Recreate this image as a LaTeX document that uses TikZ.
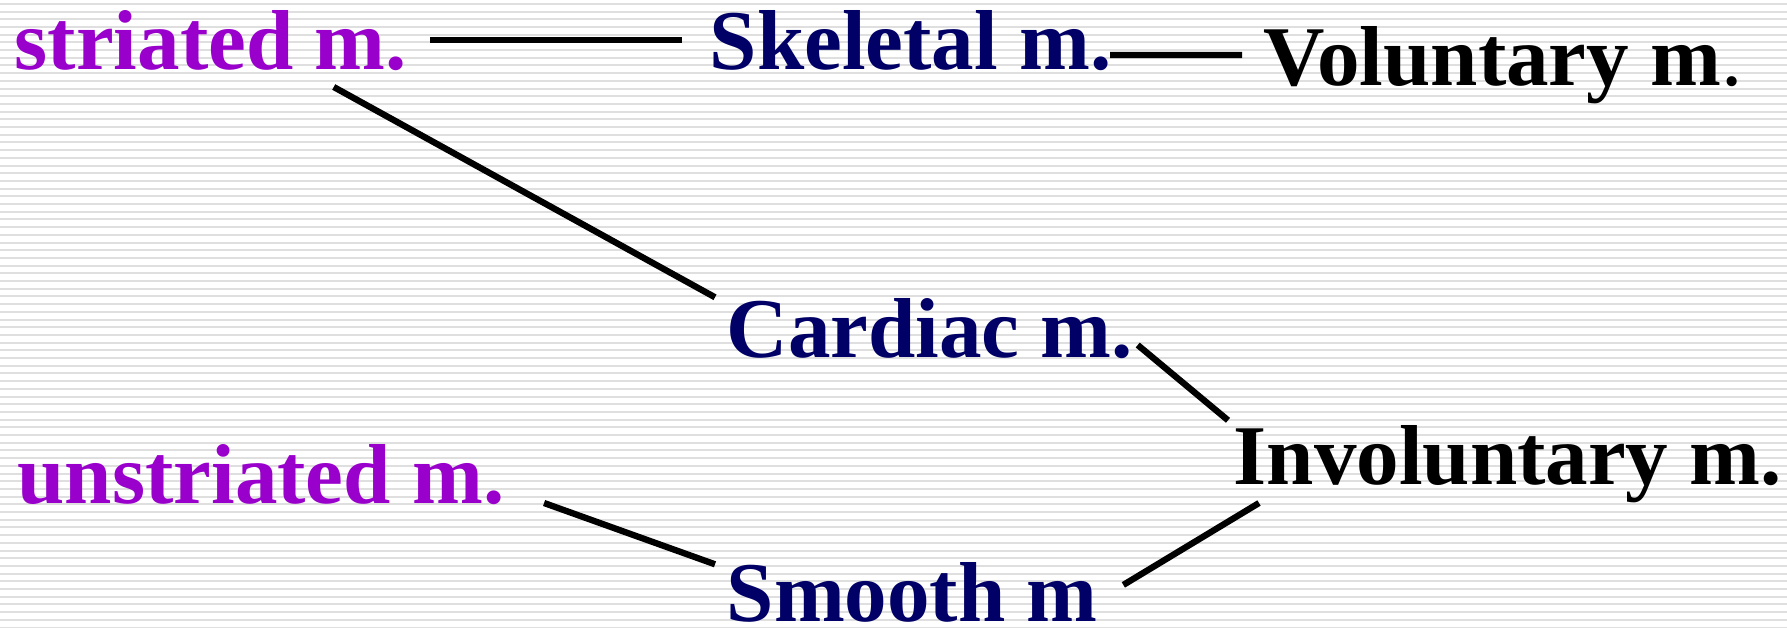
\documentclass[tikz,border=0pt]{standalone}
\usepackage{fontspec}
\setmainfont{Liberation Serif}
\definecolor{strcol}{HTML}{9900CC}
\definecolor{typcol}{HTML}{000066}
\tikzset{
	lbl/.style={anchor=base west, inner sep=0pt, font=\fontsize{24.2}{29}\selectfont\bfseries},
	link/.style={line width=1.8pt},
	stripe/.style={gray!25, line width=0.55pt}
}
\begin{document}
\begin{tikzpicture}
		\fill[white] (0,0) rectangle (17.87,6.28);
		\useasboundingbox (0,0) rectangle (17.87,6.28);
		\foreach \k in {0,...,81}
			\draw[stripe] (0,6.2415-0.077*\k) -- (17.87,6.2415-0.077*\k);
		\node[lbl, strcol] (str) at (0.14,5.59) {striated m.};
		\node[lbl, strcol] (unstr) at (0.17,1.25) {unstriated m.};
		\node[lbl, typcol] (skel) at (7.09,5.59) {Skeletal m.};
		\node[lbl, typcol] (cardiac) at (7.26,2.71) {Cardiac m.};
		\node[lbl, typcol] (smooth) at (7.26,0.07) {Smooth m};
		\node[lbl] (volun) at (12.63,5.43) {Voluntary m\mdseries.};
		\node[lbl] (invol) at (12.33,1.44) {Involuntary m.};
		\draw[link] ([xshift=2.3mm]str.east) -- ([xshift=-2.7mm]skel.west);
		\draw[link] ([shift={(-0.02,0.14)}]skel.base east) -- ([shift={(-0.21,0.30)}]volun.base west);
		\draw[link] ([shift={(1.23,-0.18)}]str.base) -- ([xshift=-1.1mm]cardiac.north west);
		\draw[link] ([shift={(0.04,0.12)}]cardiac.base east) -- ([shift={(-0.05,0.04)}]invol.north west);
		\draw[link] ([xshift=3.9mm]unstr.base east) -- ([shift={(-0.11,-0.03)}]smooth.north west);
		\draw[link] ([shift={(0.25,0.07)}]smooth.east) -- ([shift={(0.26,-0.19)}]invol.base west);
		\end{tikzpicture}
\end{document}
